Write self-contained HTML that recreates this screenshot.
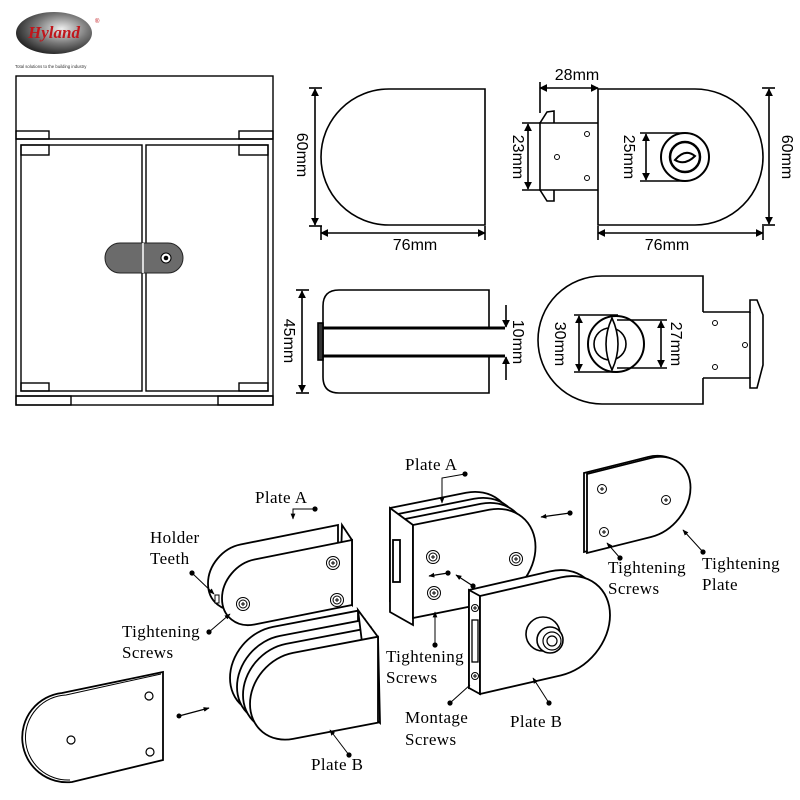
<!DOCTYPE html>
<html><head><meta charset="utf-8"><style>
html,body{margin:0;padding:0;background:#fff}
svg{display:block}
.d{font-family:"Liberation Sans",sans-serif;font-size:16px;fill:#000}
.l{font-family:"Liberation Serif",serif;font-size:17px;letter-spacing:0.4px;fill:#000}
</style></head><body>
<svg width="800" height="800" viewBox="0 0 800 800" xmlns="http://www.w3.org/2000/svg">
<defs>
<marker id="a" viewBox="0 0 10 10" refX="9" refY="5" markerWidth="8" markerHeight="8" orient="auto-start-reverse" markerUnits="userSpaceOnUse"><path d="M0,0 L10,5 L0,10 Z" fill="#000"/></marker>
<marker id="s" viewBox="0 0 10 10" refX="9" refY="5" markerWidth="6" markerHeight="6" orient="auto" markerUnits="userSpaceOnUse"><path d="M0,1 L10,5 L0,9 Z" fill="#000"/></marker>
<radialGradient id="lg" cx="0.6" cy="0.4" r="0.7"><stop offset="0" stop-color="#eee"/><stop offset="0.5" stop-color="#777"/><stop offset="1" stop-color="#111"/></radialGradient>
</defs>

<!-- Logo -->
<ellipse cx="54" cy="33" rx="38" ry="21" fill="url(#lg)"/>
<text x="54" y="38" text-anchor="middle" font-family="Liberation Serif,serif" font-style="italic" font-weight="bold" font-size="17" fill="#c0161c">Hyland</text>
<text x="95" y="23" font-family="Liberation Sans,sans-serif" font-size="6" fill="#c0161c">®</text>
<text x="15" y="68" font-family="Liberation Sans,sans-serif" font-size="4.3" fill="#333">Total solutions to the building industry</text>

<!-- Door -->
<g fill="none" stroke="#000" stroke-width="1.4">
<rect x="16" y="76" width="257" height="329"/>
<line x1="16" y1="139" x2="273" y2="139"/>
<rect x="16" y="131" width="33" height="8"/>
<rect x="239" y="131" width="34" height="8"/>
<rect x="21" y="145" width="121" height="246"/>
<rect x="146" y="145" width="122" height="246"/>
<rect x="21" y="145" width="28" height="10"/>
<rect x="239" y="145" width="29" height="10"/>
<rect x="21" y="383" width="28" height="8"/>
<rect x="239" y="383" width="29" height="8"/>
<line x1="16" y1="396" x2="273" y2="396"/>
<rect x="16" y="396" width="55" height="9"/>
<rect x="218" y="396" width="55" height="9"/>
</g>
<rect x="105" y="243" width="78" height="30" rx="15" fill="#6b6b6b" stroke="#222" stroke-width="1"/>
<line x1="143" y1="243" x2="143" y2="273" stroke="#fff" stroke-width="1.5"/>
<circle cx="166" cy="258" r="5" fill="#fff" stroke="#000"/>
<circle cx="166" cy="258" r="2.3" fill="#000"/>

<!-- Top-left D -->
<g fill="none" stroke="#000" stroke-width="1.6">
<path d="M485,89 L389,89 A68,68 0 0 0 389,225 L485,225 Z"/>
<line x1="315" y1="89" x2="315" y2="225" marker-start="url(#a)" marker-end="url(#a)"/>
<line x1="309" y1="88" x2="322" y2="88"/><line x1="309" y1="226" x2="322" y2="226"/>
<line x1="321" y1="233" x2="485" y2="233" marker-start="url(#a)" marker-end="url(#a)"/>
<line x1="321" y1="226" x2="321" y2="240"/><line x1="485" y1="226" x2="485" y2="240"/>
</g>
<text class="d" transform="translate(297,155) rotate(90)" text-anchor="middle">60mm</text>
<text class="d" x="415" y="250" text-anchor="middle">76mm</text>

<!-- Top-right D -->
<g fill="none" stroke="#000" stroke-width="1.6">
<path d="M598,89 L695,89 A68,68 0 0 1 695,225 L598,225 Z"/>
<path d="M598,123 L540,123 L540,190 L598,190"/>
<path d="M540,123 L547,112 L554,111 L554,123 M540,190 L547,201 L554,201 L554,190"/>
<circle cx="587" cy="134" r="2.5" stroke-width="1"/>
<circle cx="587" cy="178" r="2.5" stroke-width="1"/>
<circle cx="557" cy="157" r="2.5" stroke-width="1"/>
<circle cx="685" cy="157" r="24" stroke-width="2"/>
<circle cx="685" cy="157" r="15" stroke-width="2.5"/>
<path d="M675,160 Q685,148 695,156 Q685,166 675,160 Z" stroke-width="2"/>
<line x1="540" y1="88" x2="598" y2="88" marker-start="url(#a)" marker-end="url(#a)"/>
<line x1="540" y1="82" x2="540" y2="113"/>
<line x1="528" y1="124" x2="528" y2="189" marker-start="url(#a)" marker-end="url(#a)"/>
<line x1="522" y1="123" x2="540" y2="123"/><line x1="522" y1="190" x2="540" y2="190"/>
<line x1="646" y1="134" x2="646" y2="180" marker-start="url(#a)" marker-end="url(#a)"/>
<line x1="640" y1="133" x2="685" y2="133"/><line x1="640" y1="181" x2="685" y2="181"/>
<line x1="769" y1="89" x2="769" y2="224" marker-start="url(#a)" marker-end="url(#a)"/>
<line x1="762" y1="88" x2="775" y2="88"/><line x1="762" y1="225" x2="775" y2="225"/>
<line x1="598" y1="233" x2="763" y2="233" marker-start="url(#a)" marker-end="url(#a)"/>
<line x1="598" y1="226" x2="598" y2="240"/><line x1="763" y1="226" x2="763" y2="240"/>
</g>
<text class="d" x="577" y="80" text-anchor="middle">28mm</text>
<text class="d" transform="translate(513,157) rotate(90)" text-anchor="middle">23mm</text>
<text class="d" transform="translate(624,157) rotate(90)" text-anchor="middle">25mm</text>
<text class="d" transform="translate(782,157) rotate(90)" text-anchor="middle">60mm</text>
<text class="d" x="667" y="250" text-anchor="middle">76mm</text>

<!-- Side view -->
<g fill="none" stroke="#000" stroke-width="1.6">
<path d="M489,328 L489,290 L339,290 Q323,290 323,306 L323,377 Q323,393 339,393 L489,393 L489,356"/>
<rect x="318" y="323" width="5" height="37" fill="#333"/>
<line x1="323" y1="328" x2="505" y2="328" stroke-width="3"/>
<line x1="323" y1="356" x2="505" y2="356" stroke-width="3"/>
<line x1="302" y1="291" x2="302" y2="392" marker-start="url(#a)" marker-end="url(#a)"/>
<line x1="296" y1="290" x2="309" y2="290"/><line x1="296" y1="393" x2="309" y2="393"/>
<line x1="506" y1="305" x2="506" y2="327" marker-end="url(#a)"/>
<line x1="506" y1="380" x2="506" y2="357" marker-end="url(#a)"/>
</g>
<text class="d" transform="translate(284,341) rotate(90)" text-anchor="middle">45mm</text>
<text class="d" transform="translate(513,342) rotate(90)" text-anchor="middle">10mm</text>

<!-- Bottom-right D -->
<g fill="none" stroke="#000" stroke-width="1.6">
<path d="M703,312 L703,276 L602,276 A64,64 0 0 0 602,404 L703,404 L703,378"/>
<path d="M703,312 L750,312 L750,300 L757,300 L763,315 L763,365 L757,388 L750,388 L750,378 L703,378"/>
<line x1="750" y1="312" x2="750" y2="378"/>
<circle cx="715" cy="323" r="2.5" stroke-width="1"/>
<circle cx="715" cy="367" r="2.5" stroke-width="1"/>
<circle cx="745" cy="345" r="2.5" stroke-width="1"/>
<circle cx="616" cy="344" r="28" stroke-width="2"/>
<circle cx="610" cy="344" r="16" stroke-width="1.6"/>
<path d="M612,318 Q624,344 612,370 Q600,344 612,318 Z" fill="#fff" stroke-width="1.6"/>
<line x1="579" y1="316" x2="579" y2="371" marker-start="url(#a)" marker-end="url(#a)"/>
<line x1="574" y1="315" x2="618" y2="315"/><line x1="574" y1="372" x2="618" y2="372"/>
<line x1="661" y1="321" x2="661" y2="367" marker-start="url(#a)" marker-end="url(#a)"/>
<line x1="617" y1="320" x2="667" y2="320"/><line x1="617" y1="368" x2="667" y2="368"/>
</g>
<text class="d" transform="translate(555,344) rotate(90)" text-anchor="middle">30mm</text>
<text class="d" transform="translate(671,344) rotate(90)" text-anchor="middle">27mm</text>

<!-- ===== Exploded left group ===== -->
<g fill="#fff" stroke="#000" stroke-width="1.8">
<path d="M163,672 L163,760 L72,782 A44,44 0 0 1 62,693 Z"/>
<path d="M161,674 L66,695 A42,42 0 0 0 70,780" fill="none" stroke-width="1"/>
</g>
<g fill="#fff" stroke="#000" stroke-width="1.2">
<circle cx="149" cy="696" r="4"/><circle cx="71" cy="740" r="4"/><circle cx="150" cy="752" r="4"/>
</g>
<line x1="179" y1="716" x2="209" y2="708" stroke="#000" stroke-width="1.3" marker-end="url(#s)"/>
<circle cx="179" cy="716" r="2.5"/>

<!-- Plate A left -->
<g fill="#fff" stroke="#000" stroke-width="1.8">
<g transform="matrix(1,-0.2,0,1,208,551)"><path vector-effect="non-scaling-stroke" d="M130,0 L32.5,0 A32.5,32.5 0 0 0 32.5,65 L130,65 Z"/></g>
<path d="M342,525 L352,540 L352,605 L340,592 Z"/>
<g transform="matrix(1,-0.2,0,1,222,566)"><path vector-effect="non-scaling-stroke" d="M130,0 L32.5,0 A32.5,32.5 0 0 0 32.5,65 L130,65 Z"/></g>
</g>
<rect x="215" y="595" width="4" height="8" fill="#fff" stroke="#000" stroke-width="1"/>
<g fill="none" stroke="#000" stroke-width="1">
<circle cx="333" cy="563" r="6.5"/><circle cx="333" cy="563" r="4"/>
<circle cx="337" cy="600" r="6.5"/><circle cx="337" cy="600" r="4"/>
<circle cx="243" cy="604" r="6.5"/><circle cx="243" cy="604" r="4"/>
<path d="M331,563h4M333,561v4M335,600h4M337,598v4M241,604h4M243,602v4"/>
</g>

<!-- Plate B left (stacked) -->
<g fill="#fff" stroke="#000" stroke-width="1.8">
<g transform="matrix(1,-0.19,0,1,230,635)"><path vector-effect="non-scaling-stroke" d="M128,0 L43,0 A43,43 0 0 0 43,86 L128,86 Z"/></g>
<g transform="matrix(1,-0.19,0,1,237,644)"><path vector-effect="non-scaling-stroke" d="M128,0 L43,0 A43,43 0 0 0 43,86 L128,86 Z"/></g>
<g transform="matrix(1,-0.19,0,1,243,652)"><path vector-effect="non-scaling-stroke" d="M128,0 L43,0 A43,43 0 0 0 43,86 L128,86 Z"/></g>
<path d="M358,610 L378,637 L380,723 L371,715 Z"/>
<g transform="matrix(1,-0.19,0,1,250,661)"><path vector-effect="non-scaling-stroke" d="M128,0 L43,0 A43,43 0 0 0 43,86 L128,86 Z"/></g>
</g>

<!-- Labels left group -->
<g stroke="#000" stroke-width="1" fill="none">
<path d="M315,509 L293,509 L293,519" marker-end="url(#s)"/>
<path d="M192,573 L214,594" marker-end="url(#s)"/>
<path d="M209,632 L230,614" marker-end="url(#s)"/>
<path d="M349,755 L330,730" marker-end="url(#s)"/>
</g>
<g fill="#000"><circle cx="315" cy="509" r="2.6"/><circle cx="192" cy="573" r="2.6"/><circle cx="209" cy="632" r="2.6"/><circle cx="349" cy="755" r="2.6"/></g>
<text class="l" x="255" y="503">Plate A</text>
<text class="l" x="150" y="543">Holder</text>
<text class="l" x="150" y="564">Teeth</text>
<text class="l" x="122" y="637">Tightening</text>
<text class="l" x="122" y="658">Screws</text>
<text class="l" x="311" y="770">Plate B</text>

<!-- ===== Exploded right group ===== -->
<g fill="#fff" stroke="#000" stroke-width="1.8">
<g transform="matrix(1,-0.2,0,1,390,508)"><path vector-effect="non-scaling-stroke" d="M0,0 L76,0 A46.5,46.5 0 0 1 76,93 L0,93 Z"/></g>
<g transform="matrix(1,-0.2,0,1,398,514)"><path vector-effect="non-scaling-stroke" d="M0,0 L76,0 A46.5,46.5 0 0 1 76,93 L0,93 Z"/></g>
<g transform="matrix(1,-0.2,0,1,405,519)"><path vector-effect="non-scaling-stroke" d="M0,0 L76,0 A46.5,46.5 0 0 1 76,93 L0,93 Z"/></g>
<path d="M390,508 L413,525 L413,625 L390,612 Z"/>
<rect x="393" y="540" width="7" height="42"/>
<g transform="matrix(1,-0.2,0,1,413,525)"><path vector-effect="non-scaling-stroke" d="M0,0 L76,0 A46.5,46.5 0 0 1 76,93 L0,93 Z"/></g>
</g>
<g fill="none" stroke="#000" stroke-width="1">
<circle cx="433" cy="557" r="6.5"/><circle cx="433" cy="557" r="4"/>
<circle cx="516" cy="559" r="6.5"/><circle cx="516" cy="559" r="4"/>
<circle cx="434" cy="593" r="6.5"/><circle cx="434" cy="593" r="4"/>
<path d="M431,557h4M433,555v4M514,559h4M516,557v4M432,593h4M434,591v4"/>
</g>

<g fill="#fff" stroke="#000" stroke-width="1.8">
<g transform="matrix(1,-0.23,0,1,469,590)"><path vector-effect="non-scaling-stroke" d="M0,0 L81,0 A49,49 0 0 1 81,98 L0,98 Z"/></g>
<path d="M469,590 L480,596 L480,694 L469,688 Z"/>
<g transform="matrix(1,-0.23,0,1,480,596)"><path vector-effect="non-scaling-stroke" d="M0,0 L81,0 A49,49 0 0 1 81,98 L0,98 Z"/></g>
<rect x="472" y="620" width="6" height="42" stroke-width="1.3"/>
</g>
<g fill="none" stroke="#000" stroke-width="1">
<circle cx="475" cy="608" r="3.5"/><circle cx="475" cy="676" r="3.5"/>
<path d="M473,608h4M475,606v4M473,676h4M475,674v4"/>
</g>
<g fill="#fff" stroke="#000" stroke-width="1.6">
<circle cx="543" cy="634" r="17"/>
<circle cx="550" cy="640" r="13"/>
<circle cx="552" cy="641" r="9" stroke-width="1.2"/>
<circle cx="552" cy="641" r="5" stroke-width="1.2"/>
</g>

<g fill="#fff" stroke="#000" stroke-width="1.8">
<g transform="matrix(1,-0.25,0,1,584,473)"><path vector-effect="non-scaling-stroke" d="M0,0 L64,0 A39.5,39.5 0 0 1 64,79 L0,79 Z"/></g>
<g transform="matrix(1,-0.25,0,1,587,474)"><path vector-effect="non-scaling-stroke" d="M0,0 L64,0 A39.5,39.5 0 0 1 64,79 L0,79 Z"/></g>
</g>
<g fill="none" stroke="#000" stroke-width="1">
<circle cx="602" cy="489" r="4.5"/><circle cx="666" cy="500" r="4.5"/><circle cx="604" cy="532" r="4.5"/>
<path d="M600,489h4M602,487v4M664,500h4M666,498v4M602,532h4M604,530v4"/>
</g>

<g stroke="#000" stroke-width="1.2" fill="none">
<path d="M570,513 L541,517" marker-end="url(#s)"/>
<path d="M448,573 L429,576" marker-end="url(#s)"/>
<path d="M473,586 L456,575" marker-end="url(#s)"/>
<path d="M465,474 L442,478 L442,503" stroke-width="1" marker-end="url(#s)"/>
<path d="M435,645 L435,612" stroke-width="1" marker-end="url(#s)"/>
<path d="M450,703 L470,685" stroke-width="1"/>
<path d="M549,703 L533,678" stroke-width="1" marker-end="url(#s)"/>
<path d="M620,558 L607,543" stroke-width="1" marker-end="url(#s)"/>
<path d="M703,552 L683,530" stroke-width="1" marker-end="url(#s)"/>
</g>
<g fill="#000">
<circle cx="570" cy="513" r="2.6"/><circle cx="448" cy="573" r="2.6"/><circle cx="473" cy="586" r="2.6"/>
<circle cx="465" cy="474" r="2.6"/><circle cx="435" cy="645" r="2.6"/><circle cx="450" cy="703" r="2.6"/>
<circle cx="549" cy="703" r="2.6"/><circle cx="620" cy="558" r="2.6"/><circle cx="703" cy="552" r="2.6"/>
</g>
<text class="l" x="405" y="470">Plate A</text>
<text class="l" x="386" y="662">Tightening</text>
<text class="l" x="386" y="683">Screws</text>
<text class="l" x="405" y="723">Montage</text>
<text class="l" x="405" y="745">Screws</text>
<text class="l" x="510" y="727">Plate B</text>
<text class="l" x="608" y="573">Tightening</text>
<text class="l" x="608" y="594">Screws</text>
<text class="l" x="702" y="569">Tightening</text>
<text class="l" x="702" y="590">Plate</text>
</svg>
</body></html>
